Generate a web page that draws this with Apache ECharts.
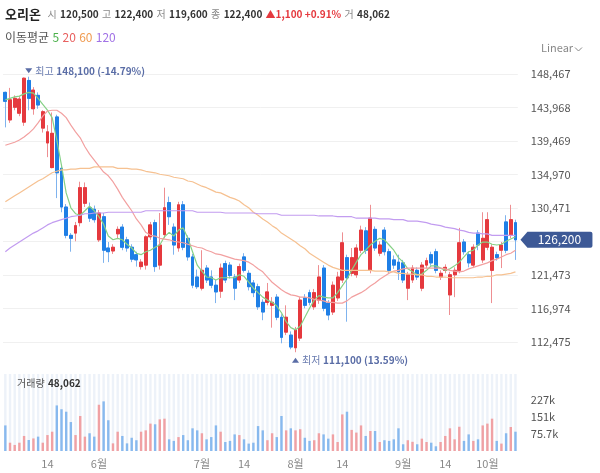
<!DOCTYPE html>
<html>
<head>
<meta charset="utf-8">
<title>오리온</title>
<script src="https://cdn.jsdelivr.net/npm/echarts@6/dist/echarts.min.js"></script>
<style>
  html, body { margin: 0; padding: 0; background: #fff; }
  #chart { width: 600px; height: 473px; }
</style>
</head>
<body>
<div id="chart"></div>
<script>
// 일봉 [시가, 종가, 저가, 고가]
const ohlc = [
  [146000, 144800, 141300, 146100], [142300, 145000, 141900, 146600], [144000, 145200, 143600, 145600],
  [143200, 145100, 142800, 145500], [142000, 147900, 141500, 148000], [147600, 145200, 143600, 148100],
  [143800, 146300, 143000, 146700], [145600, 144300, 143800, 146000], [141200, 143400, 140600, 143600],
  [139200, 140700, 137300, 141600], [135900, 140500, 135800, 143300], [142700, 135200, 131800, 143000],
  [135800, 130600, 129900, 136200], [130600, 126800, 126400, 131000], [126800, 126400, 124600, 127100],
  [127100, 128100, 126000, 128600], [128500, 133200, 128000, 134000], [131100, 133200, 130600, 133900],
  [130500, 129100, 128600, 131200], [130300, 128900, 128500, 130800], [126200, 129800, 125900, 130200],
  [129300, 124800, 123100, 129800], [125100, 124600, 123200, 125900], [124700, 125200, 124300, 125600],
  [127000, 127600, 126300, 128000], [127900, 125200, 124800, 128300], [126200, 125100, 124600, 126600],
  [125200, 123600, 123200, 125600], [124200, 123500, 122600, 124600], [122600, 123200, 122200, 123600],
  [122800, 126600, 122200, 126800], [126600, 128200, 126200, 128600], [128500, 122600, 121900, 128900],
  [122800, 125500, 122200, 129800], [126900, 130500, 126400, 133200], [131200, 129300, 128200, 132000],
  [127900, 125500, 124200, 128400], [125100, 130900, 124600, 131300], [130900, 125200, 124800, 131400],
  [126400, 123900, 123400, 126800], [123900, 120100, 119700, 124300], [121200, 119900, 119600, 122200],
  [119700, 122100, 119400, 124800], [122400, 120800, 120400, 122800], [121200, 120100, 119700, 122100],
  [120100, 119200, 117700, 120800], [119300, 122400, 118400, 123000], [123000, 120800, 120400, 123400],
  [122800, 121400, 121000, 123200], [121200, 119700, 118100, 121600], [120800, 122600, 120400, 123000],
  [123900, 122100, 121800, 124400], [121700, 119900, 119400, 122100], [120400, 119100, 118500, 120800],
  [119900, 117200, 116800, 120300], [117800, 116500, 115400, 118200], [117800, 119200, 117400, 120400],
  [117400, 117800, 114400, 118500], [118500, 115800, 115400, 118900], [115800, 113100, 112300, 116200],
  [113800, 115800, 113400, 117400], [113400, 111800, 111500, 113900], [111700, 114100, 111100, 114500],
  [113000, 118100, 112600, 118500], [118400, 117400, 117000, 118900], [119100, 117800, 117400, 119500],
  [117200, 119100, 116800, 119600], [118100, 121200, 117600, 122800], [122400, 117000, 116600, 122800],
  [117700, 116100, 115400, 118100], [116500, 120100, 116100, 120600], [118400, 121200, 118000, 121900],
  [120800, 125800, 120400, 127200], [123800, 121100, 115200, 124200], [121700, 123800, 121300, 125100],
  [121500, 125100, 121100, 125600], [124800, 127500, 124400, 128100], [127400, 124800, 124300, 127900],
  [122100, 129100, 121700, 130900], [127600, 125100, 124700, 128000], [124400, 125500, 124000, 126000],
  [127500, 124600, 124100, 127900], [124600, 122100, 121700, 125000], [123500, 122800, 122300, 124100],
  [123200, 121900, 120800, 124200], [123100, 120800, 120400, 123500], [119700, 121500, 118100, 121900],
  [120800, 122400, 120400, 122800], [122100, 121200, 120800, 122500], [119700, 122800, 119300, 123200],
  [122800, 123400, 122400, 123800], [124200, 123100, 122700, 124600], [124600, 122100, 121700, 125000],
  [121200, 121700, 120800, 122100], [122100, 122500, 121700, 122900], [118800, 121500, 116100, 121900],
  [121500, 122100, 118500, 122500], [122100, 125800, 121700, 127800], [125900, 124600, 124200, 126300],
  [124200, 123100, 122500, 124600], [122800, 125200, 122400, 125600], [127100, 125500, 124800, 127500],
  [123500, 126400, 123100, 129900], [125200, 128900, 124800, 129900], [122100, 125200, 117700, 125600],
  [124200, 123800, 123400, 124600], [124800, 125500, 122400, 125900], [128600, 124800, 124400, 129500],
  [126800, 128900, 126400, 130900], [128500, 126200, 123500, 128900]
];

const volumes = [
  114000, 37000, 27000, 37000, 67000, 49000, 56000, 64000, 37000, 71000,
  86000, 203000, 186000, 175000, 129000, 71000, 156000, 64000, 79000, 64000,
  206000, 221000, 137000, 34000, 86000, 67000, 34000, 59000, 48000, 86000,
  92000, 122000, 119000, 141000, 144000, 52000, 45000, 62000, 71000, 48000,
  101000, 92000, 79000, 52000, 62000, 114000, 86000, 40000, 45000, 74000,
  71000, 52000, 33000, 37000, 111000, 92000, 48000, 79000, 62000, 156000,
  92000, 101000, 92000, 97000, 59000, 45000, 48000, 79000, 74000, 55000,
  74000, 40000, 163000, 175000, 94000, 82000, 114000, 67000, 89000, 89000,
  40000, 48000, 45000, 52000, 101000, 30000, 48000, 41000, 30000, 55000,
  40000, 37000, 21000, 40000, 67000, 101000, 52000, 108000, 45000, 74000,
  45000, 52000, 114000, 122000, 144000, 45000, 33000, 79000, 107000, 86000
];

// 이동평균
const ma5 = [
  145000, 145200, 145400, 145500, 145800, 146000, 145900, 145200, 144400, 143600,
  142600, 139600, 136200, 132500, 130500, 129700, 129500, 130100, 130700, 130100,
  129300, 128300, 126700, 126200, 126400, 126200, 125600, 125100, 124400, 124200,
  124600, 124800, 125200, 125500, 126600, 127200, 126700, 127500, 127800, 126400,
  124600, 122800, 122000, 121200, 121100, 120800, 121100, 121100, 121100, 121100,
  121500, 121300, 120500, 119700, 119100, 118500, 118100, 117800, 117300, 116400,
  115200, 114400, 114100, 114600, 115800, 117000, 118100, 118700, 118500, 118400,
  118400, 119100, 120000, 120900, 122100, 123200, 124200, 124800, 125500, 126000,
  126400, 126200, 125500, 124800, 123800, 123200, 122300, 121900, 121500, 121600,
  122100, 122700, 122700, 122400, 122100, 122300, 122700, 123200, 123900, 124600,
  124800, 125500, 125900, 125900, 125600, 125500, 125600, 126000, 126300, 126600
];
const ma20 = [
  138900, 139100, 139300, 139600, 140000, 140500, 141100, 141900, 142800, 143500,
  143600, 143600, 143200, 142600, 141600, 140700, 139900, 138700, 137700, 136900,
  136100, 135300, 134800, 134000, 133000, 131900, 131000, 130100, 129000, 128200,
  127200, 126800, 126700, 126400, 126300, 126200, 126000, 125900, 125800, 125600,
  125400, 125200, 125100, 124800, 124600, 124300, 124200, 124000, 123800, 123600,
  123500, 123400, 123200, 122800, 122300, 121900, 121200, 120500, 120000, 119500,
  119100, 118800, 118700, 118500, 118500, 118400, 118200, 118100, 118000, 117800,
  117800, 117700, 117700, 118000, 118500, 118800, 119100, 119500, 120000, 120400,
  120900, 121300, 121700, 122000, 122100, 122300, 122400, 122400, 122400, 122400,
  122400, 122400, 122400, 122400, 122300, 122100, 122000, 121900, 122000, 122300,
  122500, 122700, 122900, 123100, 123400, 123600, 123900, 124200, 124400, 124800
];
const ma60 = [
  131300, 131700, 132100, 132500, 132900, 133300, 133700, 134100, 134400, 134800,
  135200, 135400, 135600, 135600, 135700, 135700, 135800, 135800, 135800, 136000,
  136000, 136000, 136000, 136000, 135800, 135800, 135800, 135700, 135700, 135600,
  135400, 135300, 135200, 135000, 134900, 134800, 134600, 134500, 134400, 134100,
  134000, 133700, 133400, 133200, 132900, 132600, 132500, 132200, 131900, 131700,
  131400, 130900, 130500, 129900, 129500, 129000, 128600, 128100, 127700, 127100,
  126700, 126300, 125900, 125400, 125000, 124400, 124000, 123600, 123200, 122800,
  122500, 122300, 122100, 122100, 122100, 122100, 122100, 122100, 122100, 122000,
  122000, 122000, 121900, 121900, 121700, 121700, 121600, 121600, 121500, 121500,
  121300, 121300, 121200, 121200, 121200, 121100, 121100, 121100, 121100, 121100,
  121100, 121200, 121200, 121300, 121300, 121500, 121500, 121600, 121700, 121900
];
const ma120 = [
  124600, 125100, 125500, 125900, 126300, 126700, 127100, 127400, 127800, 128200,
  128500, 128700, 128900, 129100, 129300, 129400, 129500, 129700, 129700, 129800,
  129800, 129800, 129900, 129900, 129900, 129900, 129900, 129900, 129900, 129900,
  130100, 130100, 130100, 130100, 130100, 130100, 130100, 130100, 130100, 130100,
  130100, 129900, 129900, 129900, 129900, 129900, 129900, 129800, 129800, 129800,
  129800, 129800, 129800, 129800, 129700, 129700, 129700, 129700, 129700, 129500,
  129500, 129500, 129500, 129500, 129500, 129500, 129500, 129400, 129400, 129400,
  129400, 129300, 129300, 129300, 129300, 129100, 129100, 129100, 129100, 129100,
  129000, 129000, 129000, 128900, 128900, 128900, 128700, 128700, 128700, 128600,
  128500, 128300, 128200, 128100, 127900, 127800, 127700, 127500, 127400, 127200,
  127100, 127100, 127000, 127000, 126800, 126800, 126800, 126800, 126800, 126800
];

// 축 눈금
const priceTicks = [112475, 116974, 121473, 125972, 130471, 134970, 139469, 143968, 148467];
const volumeTicks = [75700, 151400, 227100];
const dateTickIndex = [9, 20, 42, 51, 62, 72, 85, 94, 103];
const dateTickText = ['14', '6월', '7월', '14', '8월', '14', '9월', '14', '10월'];

const categories = ohlc.map((d, i) => 'd' + i);

const fontFamily = "'Noto Sans CJK KR', 'Noto Sans', sans-serif";
const UP = '#e5393e', DOWN = '#1f7fe6';
const UP_WICK = '#ee8f92', DOWN_WICK = '#7fb3ee';
const fmt = v => Math.round(v).toLocaleString('en-US');

const bodies = ohlc.map(([o, c]) => [o, c, Math.min(o, c), Math.max(o, c)]);
const lastIdx = ohlc.length - 1;
const lastClose = ohlc[lastIdx][1];
let maxIdx = 0, minIdx = 0;
ohlc.forEach((d, i) => {
  if (d[3] > ohlc[maxIdx][3]) maxIdx = i;
  if (d[2] < ohlc[minIdx][2]) minIdx = i;
});
const maxHigh = ohlc[maxIdx][3], minLow = ohlc[minIdx][2];
const pct = v => ((lastClose - v) / v * 100).toFixed(2);

const chart = echarts.init(document.getElementById('chart'));

const maLine = (name, data, color) => ({
  name, type: 'line', data, xAxisIndex: 0, yAxisIndex: 0,
  showSymbol: false, symbol: 'none', silent: true,
  lineStyle: { color, width: 1.2 }, z: 4
});

const markLabel = (title, text) => ({
  show: true, position: 'right', distance: 3,
  formatter: '{t|' + title + '} {b|' + text + '}',
  rich: {
    t: { color: '#6a7cb0', fontSize: 10, fontFamily },
    b: { color: '#5a6da6', fontSize: 10, fontWeight: 'bold', fontFamily }
  }
});

const option = {
  animation: false,
  textStyle: { fontFamily },
  grid: [
    { left: 3, width: 514.8, top: 60, height: 302, outerBoundsMode: 'none', containLabel: false },
    { left: 3, width: 514.8, top: 374, height: 77, outerBoundsMode: 'none', containLabel: false }
  ],
  xAxis: [
    {
      type: 'category', gridIndex: 0, data: categories, boundaryGap: true,
      axisLine: { show: false }, axisTick: { show: false }, axisLabel: { show: false },
      splitLine: { show: false }
    },
    {
      type: 'category', gridIndex: 1, data: categories, boundaryGap: true,
      axisLine: { show: false }, axisTick: { show: false }, splitLine: { show: false },
      axisLabel: {
        color: '#888', fontSize: 11, margin: 7, fontFamily,
        interval: idx => dateTickIndex.indexOf(idx) >= 0,
        formatter: (v, idx) => dateTickText[dateTickIndex.indexOf(idx)] || ''
      }
    }
  ],
  yAxis: [
    {
      type: 'value', gridIndex: 0, position: 'right', min: 109788, max: 150347,
      axisLine: { show: false },
      axisTick: { show: false, customValues: priceTicks },
      splitLine: { show: true, lineStyle: { color: '#f0f0f0', width: 1 } },
      axisLabel: {
        customValues: priceTicks.filter(v => v !== 125972),
        formatter: v => fmt(v), color: '#555', fontSize: 11, margin: 13, fontFamily
      }
    },
    {
      type: 'value', gridIndex: 1, position: 'right', min: 0, max: 342900,
      axisLine: { show: false }, axisTick: { show: false }, splitLine: { show: false },
      axisLabel: {
        customValues: volumeTicks, color: '#555', fontSize: 11, margin: 13, fontFamily,
        formatter: v => (v >= 100000 ? Math.round(v / 1000) : (v / 1000).toFixed(1)) + 'k'
      }
    }
  ],
  series: [
    {
      name: 'wick', type: 'candlestick', data: ohlc, xAxisIndex: 0, yAxisIndex: 0,
      barWidth: 3.4, silent: true, z: 2,
      itemStyle: { color: UP_WICK, color0: DOWN_WICK, borderColor: UP_WICK, borderColor0: DOWN_WICK, borderWidth: 1 },
      markPoint: {
        silent: true, animation: false,
        data: [
          {
            coord: [maxIdx, maxHigh], symbol: 'triangle', symbolRotate: 180,
            symbolSize: [7, 5], symbolOffset: [0, -6], itemStyle: { color: '#5a6da6' },
            label: markLabel('최고', fmt(maxHigh) + ' (' + pct(maxHigh) + '%)')
          },
          {
            coord: [minIdx, minLow], symbol: 'triangle',
            symbolSize: [7, 5], symbolOffset: [0, 8], itemStyle: { color: '#5a6da6' },
            label: markLabel('최저', fmt(minLow) + ' (' + pct(minLow) + '%)')
          }
        ]
      }
    },
    {
      name: 'body', type: 'candlestick', data: bodies, xAxisIndex: 0, yAxisIndex: 0,
      barWidth: 3.4, silent: true, z: 3,
      itemStyle: { color: UP, color0: DOWN, borderColor: UP, borderColor0: DOWN, borderWidth: 1 },
      markPoint: {
        silent: true, animation: false,
        data: [{
          coord: [lastIdx, lastClose],
          symbol: 'path://M0,8 L7,0 L70,0 Q72,0 72,2 L72,14 Q72,16 70,16 L7,16 Z',
          symbolSize: [72, 16], symbolOffset: [41, 0], symbolKeepAspect: false,
          itemStyle: { color: '#3d5996' },
          label: { show: true, position: 'inside', offset: [3, 0], color: '#fff', fontSize: 12, fontFamily, formatter: fmt(lastClose) }
        }]
      }
    },
    maLine('MA5', ma5, '#86d186'),
    maLine('MA20', ma20, '#f2a0a0'),
    maLine('MA60', ma60, '#f6c191'),
    maLine('MA120', ma120, '#c29cf0'),
    {
      name: 'volume', type: 'bar', xAxisIndex: 1, yAxisIndex: 1, barWidth: 2.4, silent: true,
      showBackground: true, backgroundStyle: { color: '#edf2f9' },
      data: volumes.map((v, i) => ({
        value: v,
        itemStyle: { color: ohlc[i][1] >= ohlc[i][0] ? '#f0a1a4' : '#88b9ee' }
      }))
    }
  ],
  graphic: [
    {
      type: 'text', x: 5, y: 14, silent: true, z: 100,
      style: {
        text: '{n|오리온}  {k|시} {v|120,500} {k|고} {v|122,400} {k|저} {v|119,600} {k|종} {v|122,400} {u|▲1,100 +0.91%} {k|거} {v|48,062}',
        verticalAlign: 'middle',
        rich: {
          n: { fontSize: 13, fontWeight: 'bold', fill: '#222', fontFamily },
          k: { fontSize: 10, fill: '#8a8a8a', fontFamily },
          v: { fontSize: 10, fontWeight: 'bold', fill: '#333', fontFamily },
          u: { fontSize: 10, fontWeight: 'bold', fill: '#e5393e', fontFamily }
        }
      }
    },
    {
      type: 'text', x: 5, y: 37, silent: true, z: 100,
      style: {
        text: '{k|이동평균} {a|5} {b|20} {c|60} {d|120}',
        verticalAlign: 'middle',
        rich: {
          k: { fontSize: 12, fill: '#555', fontFamily },
          a: { fontSize: 12, fill: '#4cb14c', fontFamily },
          b: { fontSize: 12, fill: '#e8605f', fontFamily },
          c: { fontSize: 12, fill: '#f09b50', fontFamily },
          d: { fontSize: 12, fill: '#a172e6', fontFamily }
        }
      }
    },
    {
      type: 'text', x: 541, y: 48, silent: true, z: 100,
      style: { text: 'Linear', fontSize: 11, fill: '#888', fontFamily, verticalAlign: 'middle' }
    },
    {
      type: 'polyline', silent: true, z: 100,
      shape: { points: [[575, 47.5], [578.5, 51], [582, 47.5]] },
      style: { stroke: '#888', lineWidth: 1, fill: null }
    },
    {
      type: 'text', x: 17, y: 383, silent: true, z: 100,
      style: {
        text: '{k|거래량} {v|48,062}',
        verticalAlign: 'middle',
        rich: {
          k: { fontSize: 10, fill: '#555', fontFamily },
          v: { fontSize: 10, fontWeight: 'bold', fill: '#333', fontFamily }
        }
      }
    }
  ]
};

chart.setOption(option);
window.addEventListener('resize', () => chart.resize());
</script>
</body>
</html>
